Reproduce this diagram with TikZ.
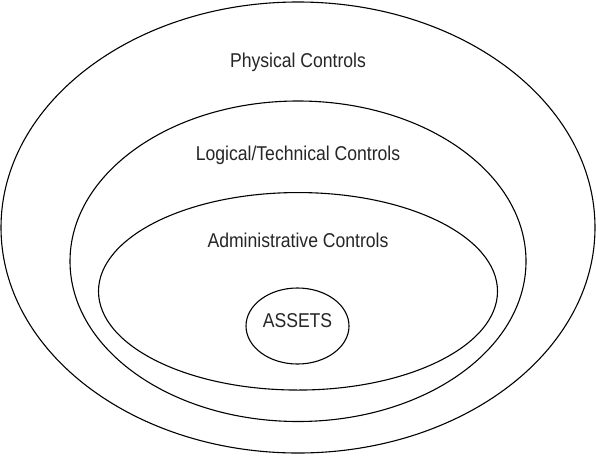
\documentclass[tikz,border=0pt]{standalone}
\usepackage{fontspec}
\setmainfont[FakeStretch=0.88]{Liberation Sans}
\usetikzlibrary{shapes.geometric}
\tikzset{
  ring/.style={ellipse, draw=black, line width=1.1pt, inner sep=0pt},
  lbl/.style={anchor=base, inner sep=0pt, font=\fontsize{20}{24}\selectfont, text=black!85}
}
\begin{document}
\begin{tikzpicture}[x=1pt,y=-1pt]
\useasboundingbox[fill=white] (0,0) rectangle (596,455);
\node[ring, minimum width=594pt, minimum height=451pt] (phys) at (298,227.5) {};
\node[ring, minimum width=456pt, minimum height=320.5pt] (logi) at (298,261.25) {};
\node[ring, minimum width=399pt, minimum height=197.5pt] (admin) at (298,291.3) {};
\node[ring, minimum width=103pt, minimum height=76pt] (assets) at (297.5,326) {};
\node[lbl] (tphys) at (298,67.3) {Physical Controls};
\node[lbl] (tlogi) at (298,160) {Logical/Technical Controls};
\node[lbl] (tadmin) at (298,247.7) {Administrative Controls};
\node[lbl] (tassets) at (297.5,327.3) {ASSETS};
\end{tikzpicture}
\end{document}
